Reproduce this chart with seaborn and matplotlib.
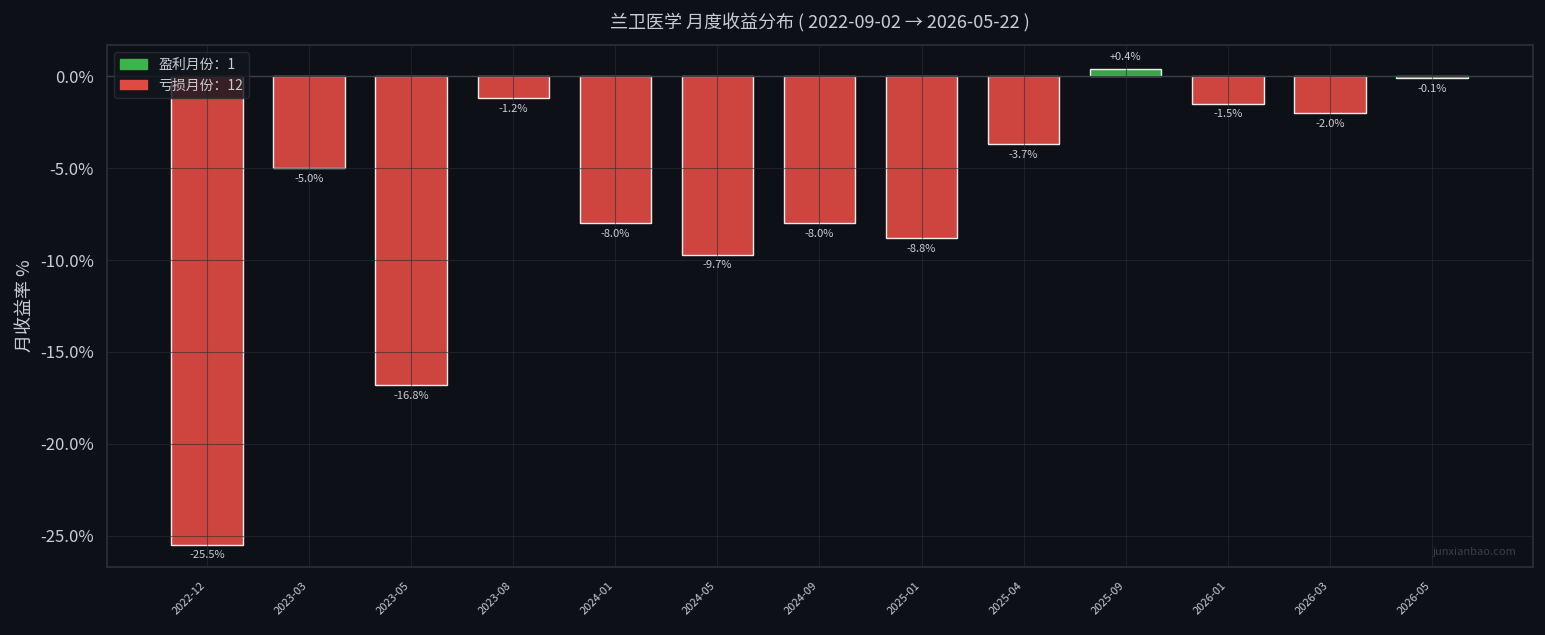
import matplotlib
matplotlib.use("Agg")
import matplotlib.pyplot as plt
import seaborn as sns
import pandas as pd
from matplotlib.patches import Patch

months = ["2022-12","2023-03","2023-05","2023-08","2024-01","2024-05","2024-09",
          "2025-01","2025-04","2025-09","2026-01","2026-03","2026-05"]
returns = [-25.5,-5.0,-16.8,-1.2,-8.0,-9.7,-8.0,-8.8,-3.7,0.4,-1.5,-2.0,-0.1]

sns.set_theme(style="dark")
plt.rcParams['font.family'] = ['Noto Sans CJK SC', 'DejaVu Sans']
bg = "#0d1017"
fig = plt.figure(figsize=(15.45, 6.35), dpi=100, facecolor=bg)
ax = fig.add_axes([107/1545, 1-567/635, (1533-107)/1545, (567-45)/635], facecolor=bg)

df = pd.DataFrame({"m": months, "r": returns})
colors = ["#3cb44b" if v > 0 else "#e04a44" for v in returns]
sns.barplot(data=df, x="m", y="r", hue="m", palette=colors, legend=False,
            width=0.7, ax=ax, alpha=0.92, saturation=1, zorder=2)
ax.set_xlim(-0.98, 12.99)
ax.set_ylim(-26.7, 1.7)
ax.grid(True, color="#2a2e36", linewidth=0.8, zorder=3)
ax.set_axisbelow(False)
for l in ax.get_xgridlines() + ax.get_ygridlines():
    l.set_alpha(0.6)
ax.axhline(0, color="#3a3f48", linewidth=1, zorder=4)
for s in ax.spines.values():
    s.set_color("#2a2e36")
ax.tick_params(colors="#c8ccd4", labelsize=12)
ax.set_yticks([0, -5, -10, -15, -20, -25])
ax.set_yticklabels([f"{v:.1f}%" for v in [0, -5, -10, -15, -20, -25]])
ax.set_xticks(range(len(months)))
ax.set_xticklabels(months, rotation=45, ha="right", fontsize=8, color="#c8ccd4")
ax.set_xlabel("")
ax.set_ylabel("月收益率 %", color="#c8ccd4", fontsize=13)
for i, v in enumerate(returns):
    if v > 0:
        ax.text(i, v + 0.35, f"+{v:.1f}%", ha="center", va="bottom", fontsize=8, color="#c8ccd4")
    else:
        ax.text(i, v - 0.3, f"{v:.1f}%", ha="center", va="top", fontsize=8, color="#c8ccd4")
ax.set_title("兰卫医学 月度收益分布 ( 2022-09-02 → 2026-05-22 )", color="#c8ccd4", fontsize=13, pad=12)
handles = [Patch(color="#3cb44b", label="盈利月份：1"), Patch(color="#e04a44", label="亏损月份：12")]
leg = ax.legend(handles=handles, loc="upper left", facecolor="#12161d", edgecolor="#2a2e36",
                fontsize=10, labelcolor="#c8ccd4")
ax.text(0.988, 0.02, "junxianbao.com", transform=ax.transAxes, ha="right", va="bottom",
        fontsize=8, color="#3a3f48")
fig.savefig("out.png", dpi=100, facecolor=bg)
